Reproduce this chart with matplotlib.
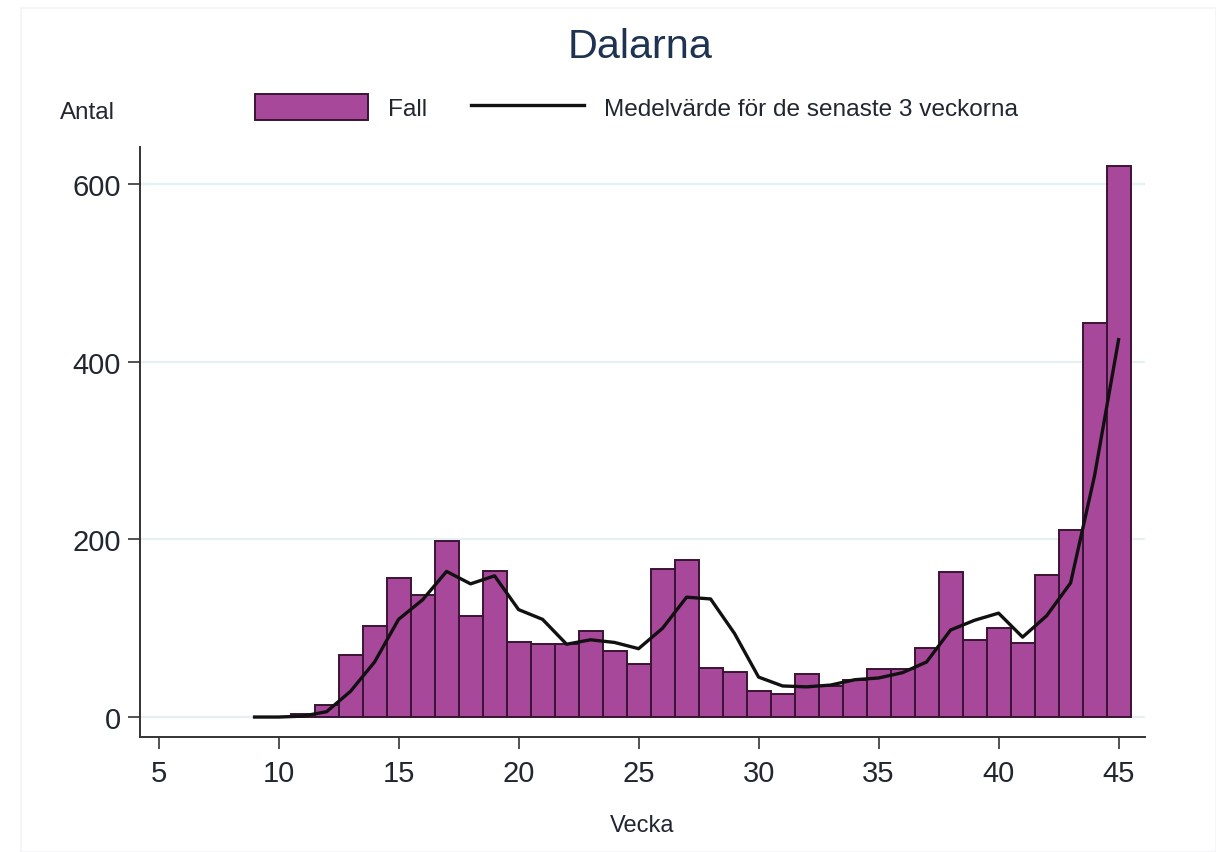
import matplotlib.pyplot as plt
from matplotlib.patches import Rectangle

# veckor med fall (staplar)
weeks = list(range(11, 46))
cases = [3, 14, 70, 102, 157, 137, 198, 114, 164, 84,
         82, 82, 97, 74, 60, 167, 177, 55, 51, 29,
         26, 48, 35, 42, 54, 54, 78, 163, 87, 100,
         83, 160, 211, 444, 621]

# medelvärde för de senaste 3 veckorna (linje)
avg_weeks = list(range(9, 46))
avg_values = [0, 0, 1, 6, 29, 62, 110, 132, 164, 150,
              159, 121, 110, 82, 87, 84, 77, 100, 135, 133,
              94, 45, 35, 34, 36, 42, 44, 50, 62, 98,
              109, 117, 90, 114, 151, 272, 425]

x_ticks = [5, 10, 15, 20, 25, 30, 35, 40, 45]
y_ticks = [0, 200, 400, 600]

bar_color = '#a8489a'
edge_color = '#3a1434'
text_color = '#222630'
title_color = '#1e3352'
grid_color = '#e6eff1'

plt.rcParams['font.family'] = ['Liberation Sans', 'DejaVu Sans']

fig = plt.figure(figsize=(12.16, 8.53), dpi=100)
ax = fig.add_axes([0.115, 0.1348, 0.8266, 0.6917])

# svag ram runt grafen
fig.patches.append(Rectangle((0.017, 0.0), 0.983, 0.99, transform=fig.transFigure,
                             fill=False, edgecolor='#f2f4f5', linewidth=1.2))

bars = ax.bar(weeks, cases, width=1.0, color=bar_color, edgecolor=edge_color,
              linewidth=1.4, label='Fall', zorder=2)
line, = ax.plot(avg_weeks, avg_values, color='#111111', linewidth=2.4,
                label='Medelvärde för de senaste 3 veckorna', zorder=3)

ax.set_xlim(4.22, 46.1)
ax.set_ylim(-22.5, 642)
ax.set_xticks(x_ticks)
ax.set_yticks(y_ticks)
ax.grid(axis='y', color=grid_color, linewidth=1.6, zorder=0)
ax.set_axisbelow(True)

for side in ['top', 'right']:
    ax.spines[side].set_visible(False)
for side in ['left', 'bottom']:
    ax.spines[side].set_color('#333333')
    ax.spines[side].set_linewidth(1.4)

ax.tick_params(axis='both', colors='#444444', labelcolor=text_color,
               labelsize=21, length=8.5, width=1.3)
ax.tick_params(axis='y', pad=5)
ax.tick_params(axis='x', pad=7)

ax.set_xlabel('Vecka', fontsize=17, color=text_color, labelpad=20)
fig.text(0.049, 0.868, 'Antal', fontsize=17.4, color=text_color, ha='left', va='center')

fig.text(0.5267, 0.945, 'Dalarna', fontsize=29.8, color=title_color,
         ha='center', va='center')

fig.legend(handles=[bars, line], loc='center', bbox_to_anchor=(0.5234, 0.873),
           ncol=2, frameon=False, fontsize=17.6, labelcolor=text_color,
           handlelength=4.63, handleheight=1.27, handletextpad=0.82,
           columnspacing=1.76)

fig.savefig('out.png', dpi=100, facecolor='white')
